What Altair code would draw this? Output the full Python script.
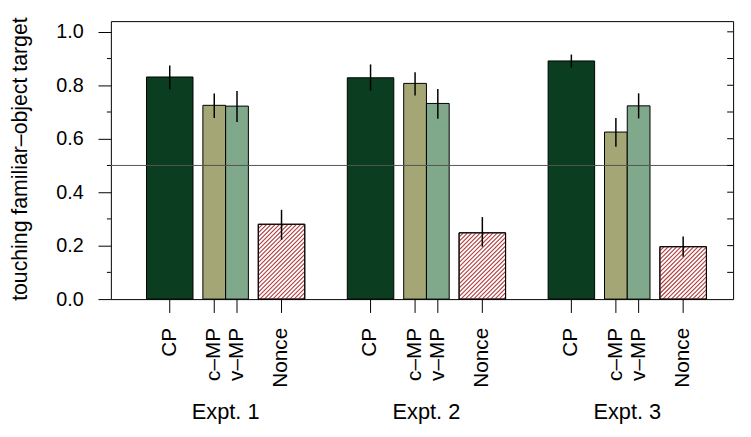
import altair as alt
import numpy as np
import pandas as pd

# ---------------- data ----------------
experiments = ["Expt. 1", "Expt. 2", "Expt. 3"]
conditions = ["CP", "c–MP", "v–MP", "Nonce"]

mean_e1 = [0.831, 0.725, 0.722, 0.280]
mean_e2 = [0.828, 0.807, 0.732, 0.248]
mean_e3 = [0.891, 0.625, 0.723, 0.196]

low_e1 = [0.785, 0.678, 0.663, 0.222]
low_e2 = [0.780, 0.762, 0.675, 0.196]
low_e3 = [0.866, 0.570, 0.676, 0.158]

high_e1 = [0.874, 0.769, 0.779, 0.334]
high_e2 = [0.878, 0.849, 0.786, 0.307]
high_e3 = [0.915, 0.678, 0.770, 0.234]

y_major_ticks = [0.0, 0.2, 0.4, 0.6, 0.8, 1.0]
y_minor_ticks = [0.1, 0.3, 0.5, 0.7, 0.9]
y_right_ticks = [0.1, 0.2, 0.3, 0.4, 0.5, 0.6, 0.7, 0.8, 0.9, 1.0]
chance_level = [0.5]

y_title = "touching familiar–object target"

# ---------------- layout ----------------
W, H = 629, 281
YMAX = 1.04
PPU = H / YMAX
GROUP_START = 36
GROUP_STEP = 203
BAR_W = [47, 23, 23, 47]
GAP_BEFORE = [0, 10, 0, 10]
HATCH_STEP = 4.3
FONT = "Liberation Sans"

means = [mean_e1, mean_e2, mean_e3]
lows = [low_e1, low_e2, low_e3]
highs = [high_e1, high_e2, high_e3]

rows = []
groups = []
for gi, e in enumerate(experiments):
    x = GROUP_START + gi * GROUP_STEP
    gx0 = None
    for ci, c in enumerate(conditions):
        x += GAP_BEFORE[ci]
        x0, x1 = x, x + BAR_W[ci]
        x = x1
        if gx0 is None:
            gx0 = x0
        rows.append(dict(expt=e, cond=c, x0=x0, x1=x1, xc=(x0 + x1) / 2,
                         mean=means[gi][ci], lo=lows[gi][ci], hi=highs[gi][ci]))
    groups.append(dict(expt=e, xc=(gx0 + x) / 2))
df = pd.DataFrame(rows)
gdf = pd.DataFrame(groups)

# hatch segments for the Nonce bars ("/" at 45 degrees in pixel space)
hatch = []
for r in rows:
    if r["cond"] != "Nonce":
        continue
    hpx = r["mean"] * PPU
    for c in np.arange(r["x0"] - hpx, r["x1"], HATCH_STEP):
        h0 = max(0.0, r["x0"] - c)
        h1 = min(hpx, r["x1"] - c)
        if h1 > h0:
            hatch.append(dict(xa=c + h0, ya=h0 / PPU, xb=c + h1, yb=h1 / PPU))
hdf = pd.DataFrame(hatch)

xs = alt.Scale(domain=[0, W], nice=False, zero=False)
ys = alt.Scale(domain=[0, YMAX], nice=False, zero=False)

YAX = alt.Axis(values=y_major_ticks, format=".1f", tickSize=13,
               labelPadding=15, labelFontSize=20, labelFont=FONT,
               labelColor="black", tickColor="black", tickWidth=1,
               domain=False, grid=False,
               title=y_title, titleFont=FONT, titleFontSize=21.5,
               titleFontWeight="normal", titleColor="black",
               titleAngle=270, titleX=-91, titleY=139,
               titleAlign="center", titleBaseline="middle")


def Y(field):
    return alt.Y(field, scale=ys, axis=YAX, title=y_title)


bars = alt.Chart(df).mark_rect(stroke="black", strokeWidth=1).encode(
    x=alt.X("x0:Q", scale=xs, axis=None),
    x2="x1:Q",
    y=Y("mean:Q"),
    y2=alt.datum(0),
    color=alt.Color("cond:N", scale=alt.Scale(domain=conditions,
                    range=["#0b3d20", "#a5a676", "#80a98b", "white"]), legend=None),
)

hatch_layer = alt.Chart(hdf).mark_rule(color="#b03a3a", strokeWidth=1.1).encode(
    x=alt.X("xa:Q", scale=xs, axis=None),
    x2="xb:Q",
    y=Y("ya:Q"),
    y2="yb:Q",
)

outline = alt.Chart(df[df["cond"] == "Nonce"]).mark_rect(
    stroke="black", strokeWidth=1, fillOpacity=0, fill="white").encode(
    x=alt.X("x0:Q", scale=xs, axis=None),
    x2="x1:Q",
    y=Y("mean:Q"),
    y2=alt.datum(0),
)

ref = alt.Chart(pd.DataFrame({"v": chance_level})).mark_rule(
    color="#555555", strokeWidth=1).encode(
    y=Y("v:Q"),
    x=alt.value(0), x2=alt.value(W),
)

err = alt.Chart(df).mark_rule(color="black", strokeWidth=1.5).encode(
    x=alt.X("xc:Q", scale=xs, axis=None),
    y=Y("lo:Q"),
    y2="hi:Q",
)

minor_left = alt.Chart(pd.DataFrame({"v": y_minor_ticks})).mark_rule(
    color="black", strokeWidth=1).encode(
    y=Y("v:Q"),
    x=alt.value(-4), x2=alt.value(0),
)

right_ticks = alt.Chart(pd.DataFrame({"v": y_right_ticks})).mark_rule(
    color="black", strokeWidth=1).encode(
    y=Y("v:Q"),
    x=alt.value(W - 6), x2=alt.value(W),
)

bottom_ticks = alt.Chart(df).mark_rule(color="black", strokeWidth=1).encode(
    x=alt.X("xc:Q", scale=xs, axis=None),
    y=alt.value(H), y2=alt.value(H + 14),
)

xlabels = alt.Chart(df).mark_text(
    angle=270, align="right", baseline="middle", fontSize=21, font=FONT,
    color="black").encode(
    x=alt.X("xc:Q", scale=xs, axis=None),
    y=alt.value(H + 29),
    text="cond:N",
)

glabels = alt.Chart(gdf).mark_text(
    align="center", baseline="alphabetic", fontSize=22, font=FONT,
    color="black").encode(
    x=alt.X("xc:Q", scale=xs, axis=None),
    y=alt.value(H + 121),
    text="expt:N",
)

chart = alt.layer(
    bars, hatch_layer, outline, ref, err, minor_left, right_ticks,
    bottom_ticks, xlabels, glabels,
).properties(
    width=W, height=H,
    autosize=alt.AutoSizeParams(type="none"),
    padding={"left": 104, "top": 11, "right": 10, "bottom": 125},
).configure_view(stroke="black", strokeWidth=1)

chart.save("out.html", embed_options={"renderer": "svg", "actions": False})
